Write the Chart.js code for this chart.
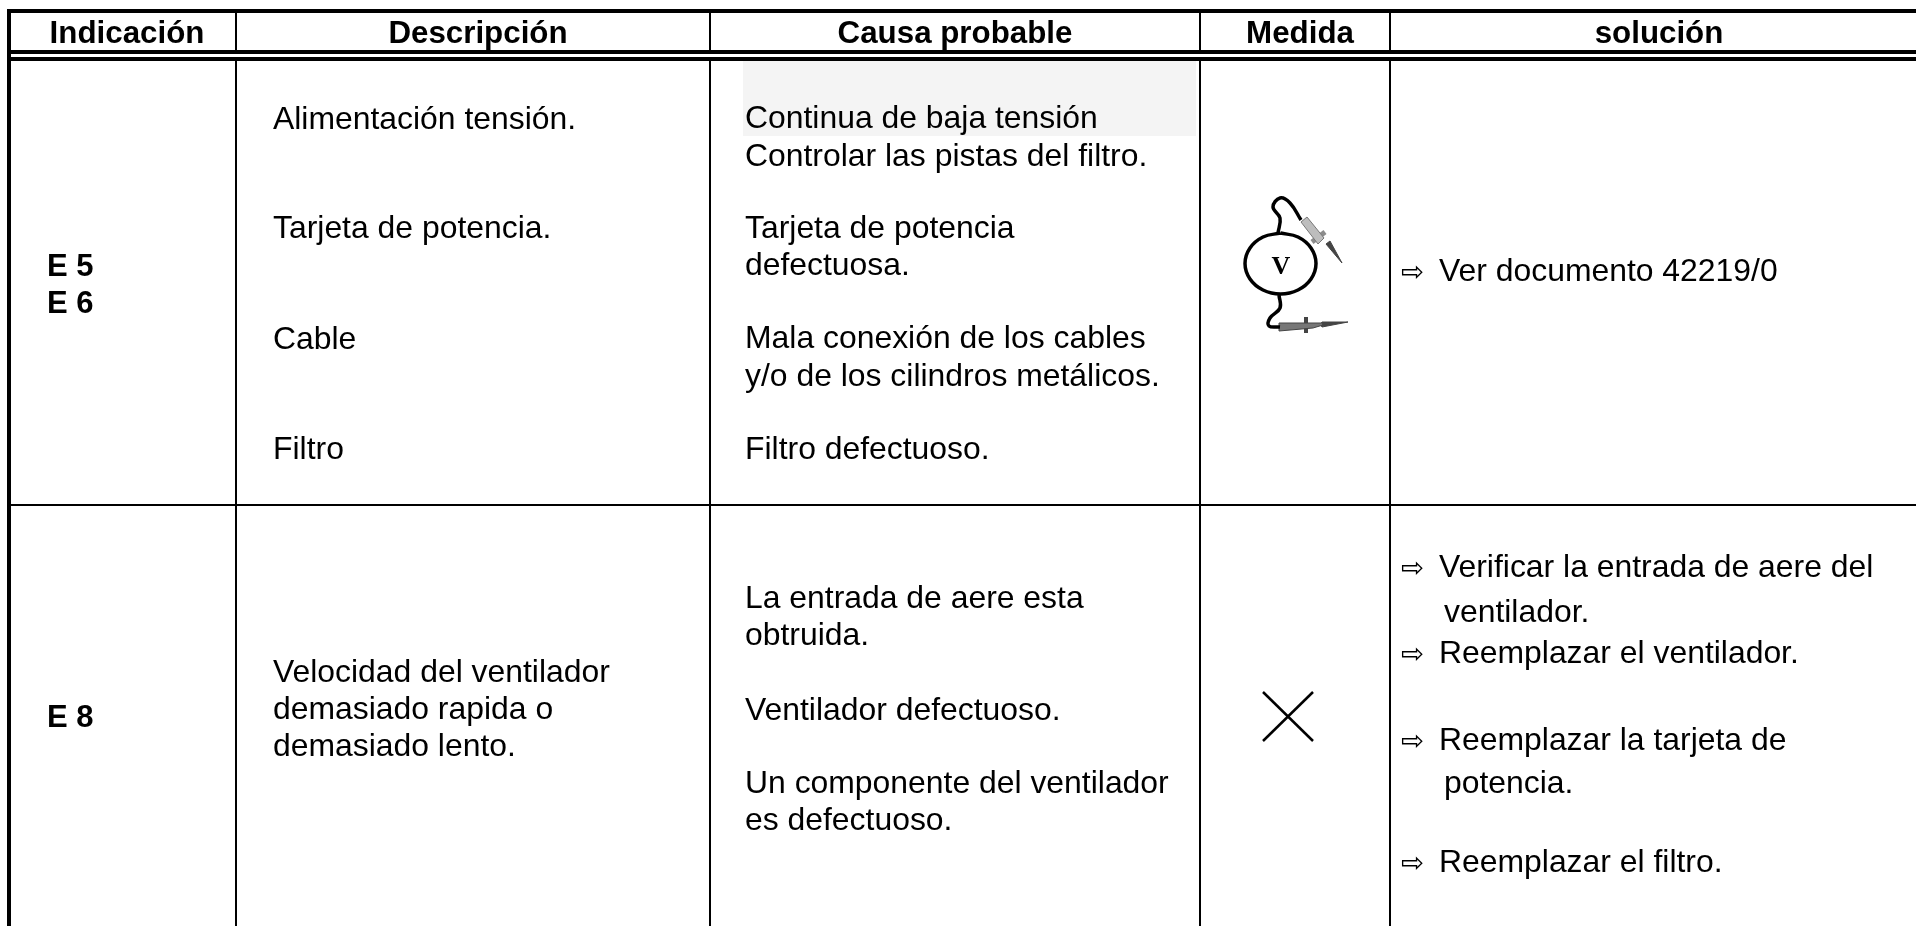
<!DOCTYPE html>
<html>
<head>
<meta charset="utf-8">
<title>Indicación</title>
<style>
  html, body { margin: 0; padding: 0; background: #fff; overflow: hidden; }
  canvas { display: block; }
</style>
<script src="https://cdn.jsdelivr.net/npm/chart.js@4/dist/chart.umd.js"></script>
</head>
<body>
<canvas id="tabla" width="1916" height="926"></canvas>
<script>
// Table content
const headers = ['Indicación', 'Descripción', 'Causa probable', 'Medida', 'solución'];
const codes = ['E 5', 'E 6', 'E 8'];
const descriptions = ['Alimentación tensión.', 'Tarjeta de potencia.', 'Cable', 'Filtro',
    'Velocidad del ventilador', 'demasiado rapida o', 'demasiado lento.'];
const causes = ['Continua de baja tensión', 'Controlar las pistas del filtro.', 'Tarjeta de potencia',
    'defectuosa.', 'Mala conexión de los cables', 'y/o de los cilindros metálicos.', 'Filtro defectuoso.',
    'La entrada de aere esta', 'obtruida.', 'Ventilador defectuoso.', 'Un componente del ventilador', 'es defectuoso.'];
const solutions = ['Ver documento 42219/0', 'Verificar la entrada de aere del', 'ventilador.',
    'Reemplazar el ventilador.', 'Reemplazar la tarjeta de', 'potencia.', 'Reemplazar el filtro.'];
const arrowedSolutions = [true, true, false, true, true, false, true];

// Where the rows sit (axis units are the pixels of the page)
const columnEdges = [236, 710, 1200, 1390];
const headerCenters = [127, 478, 955, 1300, 1659];
const codeY = [276, 313, 727];
const descriptionY = [129, 238, 349, 459, 682, 719, 756];
const causeY = [128, 166, 238, 275, 348, 386, 459, 608, 645, 720, 793, 830];
const solutionY = [281, 577, 622, 663, 750, 793, 872];

// Rules of the table
const heavyRules = [11, 52, 59];
const rowRule = 505;

// Voltmeter drawing
const dialOutline = [[1280.5, 233], [1298, 237], [1311, 248], [1316, 263.5], [1311, 279], [1298, 290], [1280.5, 294],
    [1263, 290], [1250, 279], [1245, 263.5], [1250, 248], [1263, 237], [1280.5, 233]];
const wireTop = [[1278, 233], [1280, 218], [1273, 207], [1280, 198], [1290, 203], [1301, 220]];
const wireBottom = [[1279, 295], [1280, 308], [1270, 318], [1269, 326], [1280, 327]];
const probeTopBody = [[1301, 222], [1307, 217], [1324, 238], [1318, 244], [1301, 222]];
const probeTopGuard = [[1312, 242], [1325, 232]];
const probeTopTip = [[1326, 244], [1330, 241], [1342, 263], [1326, 244]];
const probeBottomBody = [[1279, 323], [1323, 323], [1323, 325], [1313, 328], [1279, 331], [1279, 323]];
const probeBottomGuard = [[1306, 317], [1306, 333]];
const probeBottomTip = [[1322, 322], [1322, 327], [1348, 322], [1322, 322]];

// Marks of the E 8 row and the grey patch behind the first cause
const crossDown = [[1263, 692], [1313, 741]];
const crossUp = [[1263, 741], [1313, 692]];
const greyPatch = [[743, 61], [1196, 61], [1196, 136], [743, 136], [743, 61]];

function toPoints(pairs) {
    return pairs.map(p => ({ x: p[0], y: p[1] }));
}

function lineSet(pairs, color, width, extra) {
    return Object.assign({
        data: toPoints(pairs),
        borderColor: color,
        borderWidth: width,
        pointRadius: 0,
        showLine: true,
        fill: false,
        tension: 0,
        borderCapStyle: 'butt'
    }, extra || {});
}

const datasets = [];
datasets.push(lineSet(greyPatch, '#f4f4f4', 0, { fill: 'shape', backgroundColor: '#f4f4f4' }));

// Table rules
heavyRules.forEach(y => datasets.push(lineSet([[7, y], [1916, y]], '#000', 4)));
datasets.push(lineSet([[9, 9], [9, 926]], '#000', 4));
columnEdges.forEach(x => datasets.push(lineSet([[x, 11], [x, 52]], '#000', 2)));
columnEdges.forEach(x => datasets.push(lineSet([[x, 59], [x, 926]], '#000', 2)));
datasets.push(lineSet([[9, rowRule], [1916, rowRule]], '#000', 2));

// Voltmeter
datasets.push(lineSet(dialOutline, '#000', 3.5, { tension: 0.4 }));
datasets.push(lineSet(wireTop, '#000', 3.5, { tension: 0.4 }));
datasets.push(lineSet(wireBottom, '#000', 3.5, { tension: 0.4 }));
datasets.push(lineSet(probeTopBody, '#777', 1, { fill: 'shape', backgroundColor: '#bdbdbd' }));
datasets.push(lineSet(probeTopGuard, '#8c8c8c', 5));
datasets.push(lineSet(probeTopTip, '#444', 1, { fill: 'shape', backgroundColor: '#444' }));
datasets.push(lineSet(probeBottomBody, '#444', 1, { fill: 'shape', backgroundColor: '#777' }));
datasets.push(lineSet(probeBottomGuard, '#444', 4));
datasets.push(lineSet(probeBottomTip, '#444', 1, { fill: 'shape', backgroundColor: '#444' }));

// Cross
datasets.push(lineSet(crossDown, '#000', 2.5));
datasets.push(lineSet(crossUp, '#000', 2.5));

const bodyFont = '31.9px "Liberation Sans"';
const headerFont = 'bold 31.3px "Liberation Sans"';
const codeFont = 'bold 31px "Liberation Sans"';
const arrowFont = '27.5px "DejaVu Sans"';

// Writes the table text through the chart's own scales
const tableText = {
    id: 'tableText',
    afterDatasetsDraw(chart) {
        const ctx = chart.ctx;
        const sx = chart.scales.x;
        const sy = chart.scales.y;
        const put = (text, x, y, font, align) => {
            ctx.font = font;
            ctx.textAlign = align || 'left';
            ctx.textBaseline = 'alphabetic';
            ctx.fillStyle = '#000';
            ctx.fillText(text, sx.getPixelForValue(x), sy.getPixelForValue(y));
        };
        ctx.save();
        headers.forEach((h, i) => put(h, headerCenters[i], 43, headerFont, 'center'));
        codes.forEach((c, i) => put(c, 47, codeY[i], codeFont));
        descriptions.forEach((d, i) => put(d, 273, descriptionY[i], bodyFont));
        causes.forEach((c, i) => put(c, 745, causeY[i], bodyFont));
        solutions.forEach((s, i) => {
            if (arrowedSolutions[i]) {
                put('⇨', 1401, solutionY[i], arrowFont);
                put(s, 1439, solutionY[i], bodyFont);
            } else {
                put(s, 1444, solutionY[i], bodyFont);
            }
        });
        put('V', 1281, 274, 'bold 26px "Liberation Serif"', 'center');
        ctx.restore();
    }
};

new Chart(document.getElementById('tabla').getContext('2d'), {
    type: 'scatter',
    data: { datasets: datasets },
    plugins: [tableText],
    options: {
        responsive: false,
        animation: false,
        layout: { padding: 0 },
        plugins: { legend: { display: false }, tooltip: { enabled: false } },
        scales: {
            x: { type: 'linear', display: false, min: 0, max: 1916 },
            y: { type: 'linear', display: false, min: 0, max: 926, reverse: true }
        }
    }
});
</script>
</body>
</html>
